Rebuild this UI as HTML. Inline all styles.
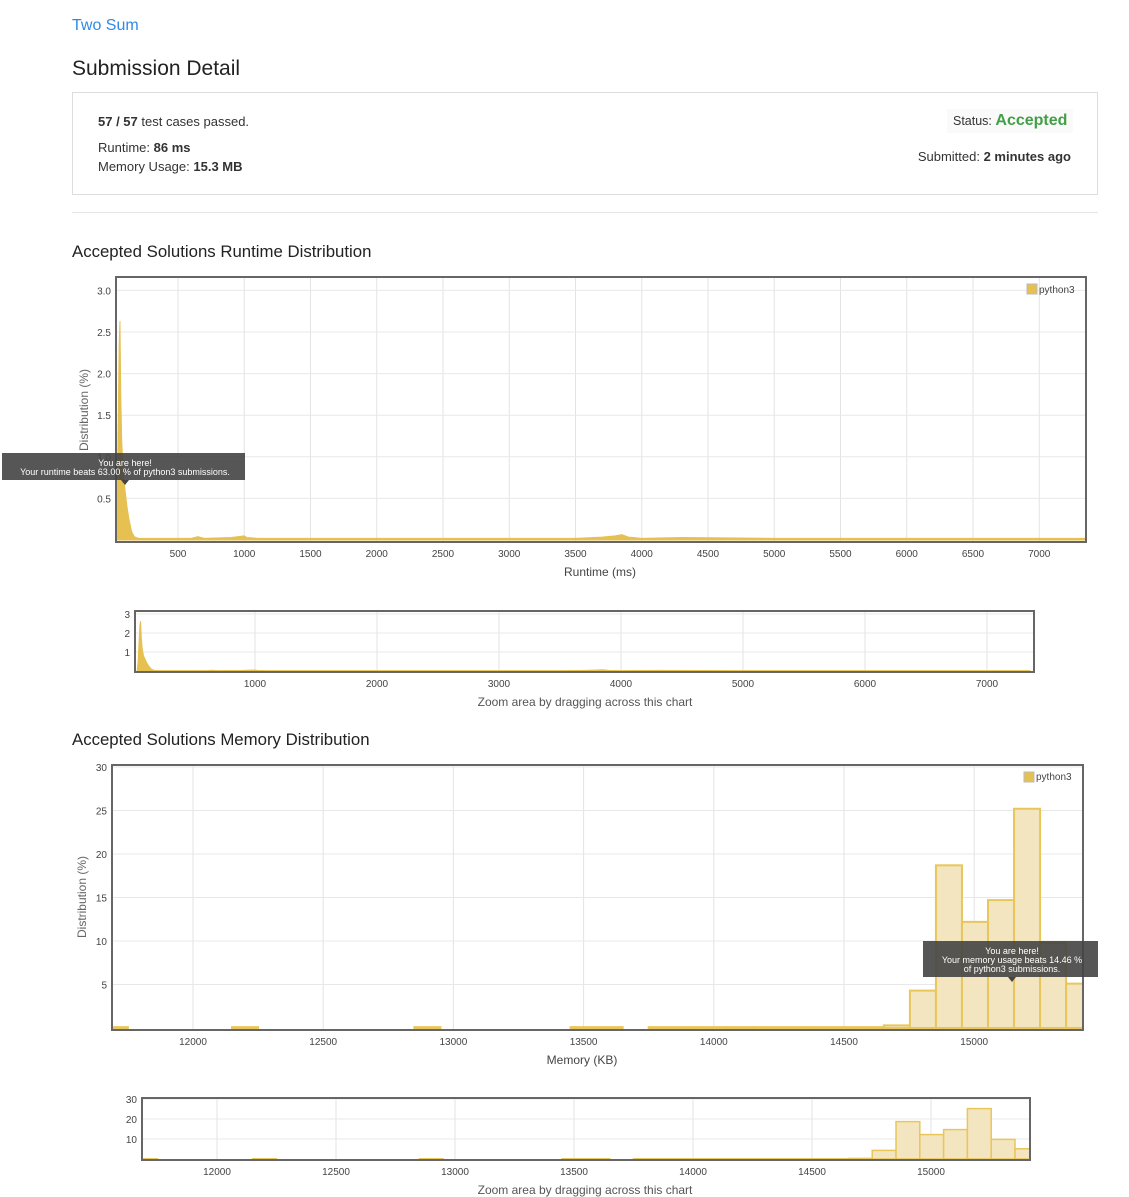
<!DOCTYPE html>
<html><head><meta charset="utf-8"><style>
body{margin:0;background:#fff;font-family:"Liberation Sans",sans-serif;color:#333;width:1129px;height:1197px;position:relative;overflow:hidden}
.a{position:absolute}
svg text{font-family:"Liberation Sans",sans-serif}
</style></head><body>
<div class="a" style="left:72px;top:17px;font-size:16px;color:#2f8ae5">Two Sum</div>
<div class="a" style="left:72px;top:57px;font-size:21px;color:#222">Submission Detail</div>
<div class="a" style="left:72px;top:92px;width:1024px;height:101px;border:1px solid #ddd">
 <div class="a" style="left:25px;top:21px;font-size:13px"><b>57 / 57</b> test cases passed.</div>
 <div class="a" style="left:25px;top:47px;font-size:13px">Runtime: <b>86 ms</b></div>
 <div class="a" style="left:25px;top:66px;font-size:13px">Memory Usage: <b>15.3 MB</b></div>
 <div class="a" style="left:874px;top:16px;padding:3px 6px;background:#fafafa;font-size:12.5px">Status: <span style="color:#43a047;font-size:16px;font-weight:bold">Accepted</span></div>
 <div class="a" style="right:26px;top:56px;font-size:13px">Submitted: <b>2 minutes ago</b></div>
</div>
<div class="a" style="left:72px;top:212px;width:1026px;height:1px;background:#e6e6e6"></div>
<div class="a" style="left:72px;top:242px;font-size:16.8px;color:#222">Accepted Solutions Runtime Distribution</div>
<div class="a" style="left:72px;top:730px;font-size:16.8px;color:#222">Accepted Solutions Memory Distribution</div>
<svg id="s" class="a" style="left:0;top:0" width="1129" height="1197"></svg>
<script>
// runtime data (ms, %)
const rtX=[34,42,50,56,62,68,75,86,100,115,130,150,170,200,300,600,650,700,900,1000,1020,1100,1500,2000,2500,3000,3500,3700,3800,3850,3900,4000,4300,5000,6000,7000,7353];
const rtY=[0,0.5,1.6,2.35,2.63,1.75,1.2,0.8,0.6,0.4,0.25,0.1,0.04,0.02,0.02,0.02,0.04,0.02,0.03,0.05,0.03,0.02,0.02,0.02,0.02,0.02,0.02,0.035,0.05,0.065,0.035,0.02,0.03,0.02,0.02,0.02,0.02];
const rtTicks=[500,1000,1500,2000,2500,3000,3500,4000,4500,5000,5500,6000,6500,7000];
const rtYTicks=[0.5,1.0,1.5,2.0,2.5,3.0];
const rtNavTicks=[1000,2000,3000,4000,5000,6000,7000];
// memory data (bin start KB, %)
const memBins=[11690,12150,12850,13450,13750,13950,14050,14150,14350,14553,14653,14753,14853,14953,15053,15153,15253,15353];
const memVals=[0.1,0.1,0.1,0.1,0.1,0.1,0.1,0.1,0.1,0.1,0.3,4.3,18.7,12.2,14.7,25.2,9.8,5.1];
const memBinW=[60,100,100,200,200,100,100,200,200,100,100,100,100,100,100,100,100,100];
const memTicks=[12000,12500,13000,13500,14000,14500,15000];
const memYTicks=[5,10,15,20,25,30];
const memNavYTicks=[10,20,30];
const S=document.getElementById('s');const NS='http://www.w3.org/2000/svg';
function E(t,a,p){const e=document.createElementNS(NS,t);for(const k in a)e.setAttribute(k,a[k]);(p||S).appendChild(e);return e}
function T(x,y,s,txt,o){const e=E('text',Object.assign({x:x,y:y,'font-size':s,fill:'#444'},o||{}));e.textContent=txt;return e}
function frame(c){
 const g=E('g',{});
 const sx=v=>c.x0+(v-c.v0)*c.kx, sy=v=>c.yb-v*c.ky;
 c.xt.forEach(v=>{E('line',{x1:sx(v),x2:sx(v),y1:c.top,y2:c.bot,stroke:'#e3e3e3'},g);const t=T(sx(v),c.bot+15,c.fs,v,{'text-anchor':'middle'});g.appendChild(t)});
 c.yt.forEach(v=>{E('line',{x1:c.l,x2:c.r,y1:sy(v),y2:sy(v),stroke:'#e8e8e8'},g);g.appendChild(T(c.l-5,sy(v)+4,c.fs,c.yf?c.yf(v):v,{'text-anchor':'end'}))});
 return {g,sx,sy};
}
function border(c,g){E('rect',{x:c.l,y:c.top,width:c.r-c.l,height:c.bot-c.top,fill:'none',stroke:'#666','stroke-width':2},g)}
function area(c){const {g,sx,sy}=frame(c);let d='M'+sx(rtX[0])+','+sy(0);rtX.forEach((v,i)=>d+='L'+sx(v)+','+sy(rtY[i]));d+='L'+sx(rtX[rtX.length-1])+','+sy(0)+'Z';
 const p=E('path',{d:d,fill:'#e6c050',stroke:'#e6c050','stroke-width':1},g);border(c,g);return {g,sx,sy}}
function bars(c){const {g,sx,sy}=frame(c);memBins.forEach((v,i)=>{const x1=Math.max(sx(v),c.l),x2=Math.min(sx(v+memBinW[i]),c.r);
 const b=E('rect',{x:x1,y:sy(memVals[i]),width:x2-x1,height:sy(0)-sy(memVals[i]),fill:'#f3e5bf',stroke:'#e8c65a','stroke-width':c.sw},g);
 });border(c,g);return {g,sx,sy}}
// runtime main
const R=area({name:'runtime-chart',l:116,r:1086,top:277,bot:542,x0:178,v0:500,kx:0.1325,yb:540,ky:83.2,xt:rtTicks,yt:rtYTicks,fs:10,yf:v=>v.toFixed(1)});
T(600,576,12,'Runtime (ms)',{'text-anchor':'middle'});
T(88,410,12,'Distribution (%)',{'text-anchor':'middle',transform:'rotate(-90 88 410)',fill:'#666'});
E('rect',{x:1027,y:284,width:10,height:10,fill:'#e6c050',stroke:'#bbb'});T(1039,293,10,'python3');
// tooltip runtime
E('rect',{x:2,y:453,width:243,height:27,fill:'#444',opacity:0.9});
E('path',{d:'M121,480 L125,485 L129,480Z',fill:'#444'});
T(125,466,9,'You are here!',{'text-anchor':'middle',fill:'#fff'});T(125,475,9,'Your runtime beats 63.00 % of python3 submissions.',{'text-anchor':'middle',fill:'#fff'});
// runtime nav
area({name:'runtime-navigator',inter:true,l:135,r:1034,top:611,bot:672,x0:255,v0:1000,kx:0.122,yb:671,ky:19,xt:rtNavTicks,yt:[1,2,3],fs:10});
T(585,706,12,'Zoom area by dragging across this chart',{'text-anchor':'middle',fill:'#555'});
// memory main
const M=bars({name:'memory-chart',l:112,r:1083,top:765,bot:1030,x0:193,v0:12000,kx:0.2604,yb:1028,ky:8.7,xt:memTicks,yt:memYTicks,fs:10,sw:2});
T(582,1064,12,'Memory (KB)',{'text-anchor':'middle'});
T(86,897,12,'Distribution (%)',{'text-anchor':'middle',transform:'rotate(-90 86 897)',fill:'#666'});
E('rect',{x:1024,y:772,width:10,height:10,fill:'#e6c050',stroke:'#bbb'});T(1036,780,10,'python3');
E('rect',{x:923,y:941,width:175,height:36,fill:'#444',opacity:0.9});
E('path',{d:'M1008,977 L1012,982 L1016,977Z',fill:'#444'});
T(1012,954,9,'You are here!',{'text-anchor':'middle',fill:'#fff'});T(1012,963,9,'Your memory usage beats 14.46 %',{'text-anchor':'middle',fill:'#fff'});T(1012,972,9,'of python3 submissions.',{'text-anchor':'middle',fill:'#fff'});
// memory nav
bars({name:'memory-navigator',inter:true,l:142,r:1030,top:1098,bot:1160,x0:217,v0:12000,kx:0.238,yb:1159,ky:2,xt:memTicks,yt:memNavYTicks,fs:10,sw:1.5});
T(585,1194,12,'Zoom area by dragging across this chart',{'text-anchor':'middle',fill:'#555'});
</script>
</body></html>
